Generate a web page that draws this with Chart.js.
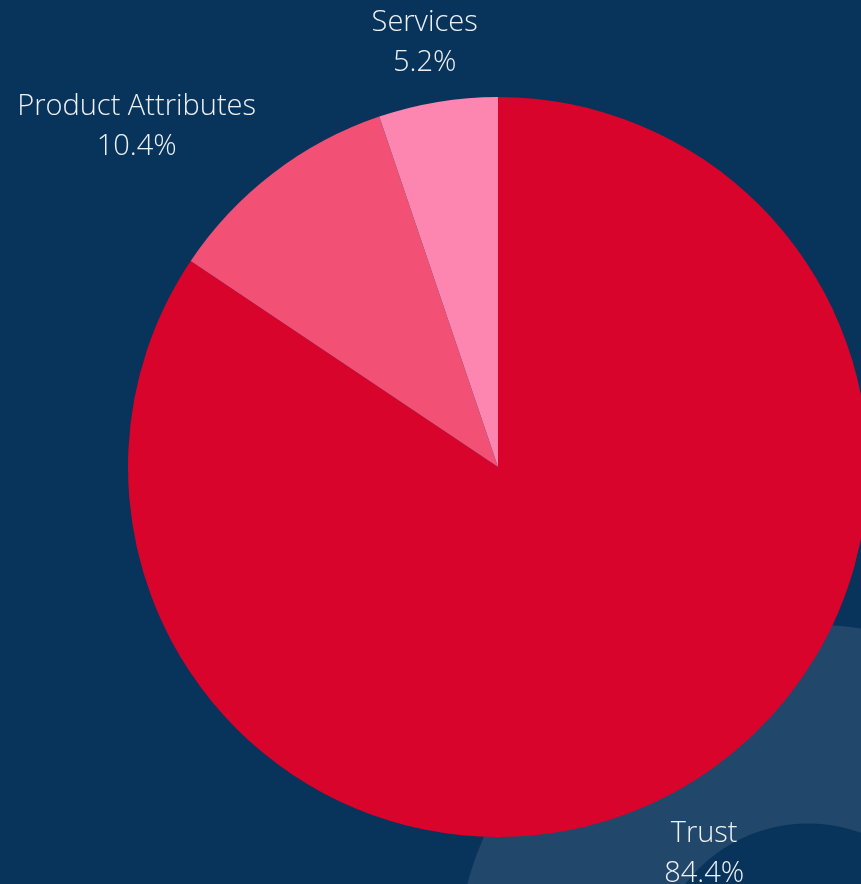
<!DOCTYPE html>
<html>
<head>
<meta charset="utf-8">
<script src="https://cdn.jsdelivr.net/npm/chart.js@4/dist/chart.umd.min.js"></script>
<style>
  html, body {
    margin: 0;
    padding: 0;
    width: 861px;
    height: 884px;
    overflow: hidden;
  }
  body {
    background:
      radial-gradient(circle at 808px 978px, #08335a 0, #08335a 154px, #21476b 155px, #21476b 353px, rgba(0,0,0,0) 354px),
      #08335a;
    position: relative;
  }
  #wrap {
    position: absolute;
    left: 0;
    top: 0;
    width: 996px;
    height: 934px;
  }
</style>
</head>
<body>
<div id="wrap"><canvas id="grafico-pie"></canvas></div>
<script>
// --- DATOS ---
const categorias = ["Trust", "Product Attributes", "Services"];
const porcentajes = [84.4, 10.4, 5.2];
const colores = ["#d9042c", "#f25074", "#fc86b0"];

// --- ETIQUETAS FUERA DEL PASTEL ---
const etiquetasExternas = {
  id: "etiquetasExternas",
  afterDraw(chart) {
    const ctx = chart.ctx;
    const meta = chart.getDatasetMeta(0);
    const alto = 72;
    ctx.save();
    ctx.fillStyle = "#eef1f5";
    ctx.font = "300 29px 'Open Sans'";
    ctx.textBaseline = "middle";
    ctx.textAlign = "center";

    meta.data.forEach((arc, i) => {
      const p = arc.getProps(["x", "y", "startAngle", "endAngle", "outerRadius"], true);
      const mid = (p.startAngle + p.endAngle) / 2;
      const dx = Math.cos(mid);
      const dy = Math.sin(mid);
      const linea1 = categorias[i];
      const linea2 = porcentajes[i].toFixed(1) + "%";
      const ancho = Math.max(ctx.measureText(linea1).width, ctx.measureText(linea2).width);

      // punto de anclaje justo fuera del borde, y la caja se aleja del centro
      const dist = p.outerRadius + 28;
      const ax = p.x + dx * dist;
      const ay = p.y + dy * dist;
      const sx = Math.abs(dx) > 0.5 ? Math.sign(dx) * ancho / 2 : dx * ancho / 2;
      const sy = dy * alto / 2;
      const cx = ax + sx;
      const cy = ay + sy + 4;

      ctx.fillText(linea1, cx, cy - 20);
      ctx.fillText(linea2, cx, cy + 20);
    });
    ctx.restore();
  }
};

new Chart(document.getElementById("grafico-pie"), {
  type: "pie",
  data: {
    labels: categorias,
    datasets: [{
      data: porcentajes,
      backgroundColor: colores,
      borderWidth: 0
    }]
  },
  options: {
    responsive: true,
    maintainAspectRatio: false,
    animation: false,
    layout: { padding: 97 },
    plugins: {
      legend: { display: false },
      tooltip: { enabled: false }
    }
  },
  plugins: [etiquetasExternas]
});
</script>
</body>
</html>
